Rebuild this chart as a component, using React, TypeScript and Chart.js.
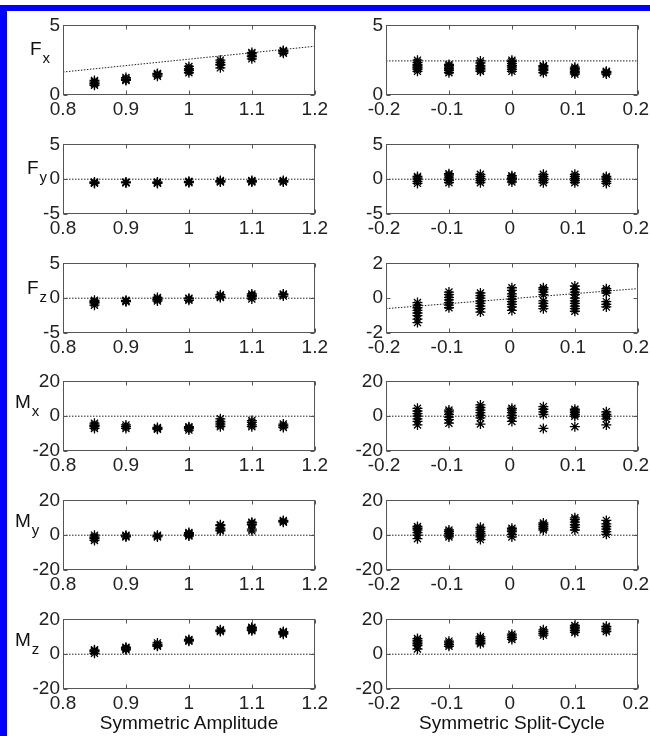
import React, { useEffect, useRef } from "react";
import { Chart, registerables } from "chart.js";
Chart.register(...registerables);

// ---------- data ----------
const ampX = [0.85, 0.9, 0.95, 1.0, 1.05, 1.1, 1.15];
const splitX = [-0.15, -0.1, -0.05, 0, 0.05, 0.1, 0.15];
const ampTicks = [0.8, 0.9, 1, 1.1, 1.2];
const splitTicks = [-0.2, -0.1, 0, 0.1, 0.2];
const ampRange = [0.8, 1.2];
const splitRange = [-0.2, 0.2];

const fxTicks = [0, 5];
const fTicks = [-5, 0, 5];
const fzSplitTicks = [-2, 0, 2];
const mTicks = [-20, 0, 20];

// Symmetric Amplitude column (groups of repeated measurements at each ampX)
const ampFx = [[0.7, 0.85, 0.95, 1.05, 0.8], [1.05, 1.15, 1.25, 1.1], [1.35, 1.45, 1.55, 1.5], [1.6, 1.75, 1.9, 2.05, 1.8], [1.95, 2.15, 2.35, 2.5, 2.2], [2.6, 2.8, 2.95, 3.05, 2.75], [3.0, 3.1, 3.2, 3.15]];
const ampFy = [[-0.6, -0.4, -0.5], [-0.5, -0.4, -0.5], [-0.6, -0.5, -0.4], [-0.5, -0.3, -0.4], [-0.4, -0.2, -0.3], [-0.4, -0.2, -0.3], [-0.3, -0.2, -0.4]];
const ampFz = [[-1.0, -0.7, -0.5, -0.3, -0.6], [-0.5, -0.3, -0.4], [-0.4, -0.1, -0.2, 0.1], [-0.3, -0.1, 0.0], [0.1, 0.3, 0.5, 0.2], [-0.1, 0.2, 0.4, 0.6, 0.3], [0.3, 0.5, 0.6]];
const ampMx = [[-7, -6, -5, -4, -5.5], [-7, -6, -5], [-7.5, -7, -6.5], [-8, -7, -6, -6.5], [-6, -4, -3, -1.5, -5], [-6, -5, -3.5, -2.5], [-6.5, -5.5, -4.5]];
const ampMy = [[-3, -2, -1, 0, -1.5], [-1, 0, -0.5], [-1, -0.5, 0], [-0.5, 0.5, 1, 1.5, 0], [2.5, 4, 5.5, 6, 3], [2.5, 3.5, 6, 7, 7.5], [7.5, 8, 8.5]];
const ampMz = [[0.5, 1.5, 2.5, 2], [2.5, 3.5, 4, 3], [4.5, 5.5, 6.5, 5], [7.5, 8, 8.5], [13, 13.5, 14], [13.5, 14.5, 15.5, 15, 14], [11.5, 12.5, 13, 12]];

// Symmetric Split-Cycle column
const splitFx = [[1.7, 1.85, 2.0, 2.1, 2.2, 2.35, 2.5, 1.95], [1.6, 1.75, 1.9, 2.0, 2.1, 2.2, 1.8], [1.7, 1.8, 1.9, 2.0, 2.1, 2.45, 2.3], [1.7, 1.85, 2.0, 2.1, 2.25, 2.4, 2.5], [1.6, 1.75, 1.85, 1.95, 2.05, 2.1], [1.5, 1.6, 1.7, 1.8, 1.9, 2.0], [1.5, 1.6, 1.65, 1.7]];
const splitFy = [[-0.6, -0.3, 0, 0.2, 0.4], [-0.5, -0.2, 0, 0.3, 0.6, 0.8], [-0.5, -0.2, 0.1, 0.4, 0.7], [-0.4, -0.1, 0.1, 0.3, 0.5], [-0.5, -0.2, 0.1, 0.4, 0.7], [-0.5, -0.2, 0.1, 0.4, 0.7], [-0.6, -0.3, 0, 0.2, 0.4]];
const splitFz = [[-1.4, -1.2, -1.0, -0.85, -0.7, -0.55, -0.4, -0.25], [-0.55, -0.4, -0.25, -0.1, 0.05, 0.2, 0.35], [-0.8, -0.6, -0.45, -0.3, -0.15, 0, 0.15, 0.3], [-0.7, -0.5, -0.35, -0.2, -0.05, 0.1, 0.25, 0.45, 0.6], [-0.6, -0.45, -0.3, -0.15, 0.2, 0.35, 0.5, 0.6], [-0.75, -0.6, -0.45, -0.3, -0.15, 0, 0.2, 0.35, 0.5, 0.7], [-0.5, -0.35, -0.2, 0.3, 0.45, 0.55]];
const splitMx = [[-5, -3, -1.5, 0, 1.5, 3, 4.5], [-4, -2, -0.5, 1, 2.5, 3.5], [-4.5, -1, 0.5, 2, 3.5, 5, 6.5], [-3, -1, 0.5, 2, 3.5, 4.5], [-7, 1, 2.5, 4, 5.5], [-6, 0, 1, 2, 3, 4], [-5, -1.5, 0, 1, 2.5]];
const splitMy = [[-2, 0, 1.5, 3, 4, 5], [-1, 0, 1, 2, 3], [-2.5, -1, 0, 1, 2, 3.5, 4.5], [-1, 0.5, 2, 3, 4], [3, 4, 5, 6, 7], [3, 4.5, 6, 7.5, 9, 10], [0.5, 2, 3.5, 5, 6.5, 8.5]];
const splitMz = [[3, 5, 6, 7, 8, 9], [4.5, 5.5, 6.5, 7.5], [6, 7, 8, 9, 10], [8.5, 9.5, 10.5, 11.5], [11, 12, 13, 14], [12.5, 13.5, 14.5, 15.5, 16.5], [13, 14, 15, 16]];

// fitted (dotted) lines: y at left and right end of x range
const ampFxFit = [1.65, 3.5];
const splitFxFit = [2.45, 2.45];
const splitFzFit = [-0.6, 0.55];
const zeroFit = [0, 0];

const rowLabels = [["F", "x"], ["F", "y"], ["F", "z"], ["M", "x"], ["M", "y"], ["M", "z"]];
const xLabels = ["Symmetric Amplitude", "Symmetric Split-Cycle"];

// ---------- layout ----------
const FONT = '"Liberation Sans", Arial, Helvetica, sans-serif';
const FS = 19;
const PLOT_W = 252;
const PLOT_H = 72;
const COL_LEFT = [63, 386];
const COL_LABEL_OFFSET = [0, -2];
const ROW_TOP = [23, 142, 261, 379, 498, 617];
const YW = 56;
const PT = 12;
const PR = 16;
const XH = 28;
const LABEL_LEFT = [30, 27, 27, 15, 15, 15];
const LABEL_DY = [16, 16, 17, 13, 13, 13];

const boxPlugin = {
  id: "box",
  afterDraw(chart: any) {
    const { ctx, chartArea: a, scales } = chart;
    ctx.save();
    ctx.strokeStyle = "#555";
    ctx.lineWidth = 1;
    const L = Math.round(a.left) + 0.5, R = Math.round(a.right) - 0.5;
    const T = Math.round(a.top) + 0.5, B = Math.round(a.bottom) - 0.5;
    ctx.strokeRect(L, T, R - L, B - T);
    ctx.beginPath();
    scales.x.ticks.forEach((t: any) => {
      const px = Math.round(scales.x.getPixelForValue(t.value)) + 0.5;
      ctx.moveTo(px, T); ctx.lineTo(px, T + 4);
      ctx.moveTo(px, B); ctx.lineTo(px, B - 4);
    });
    scales.y.ticks.forEach((t: any) => {
      const py = Math.round(scales.y.getPixelForValue(t.value)) + 0.5;
      ctx.moveTo(L, py); ctx.lineTo(L + 4, py);
      ctx.moveTo(R, py); ctx.lineTo(R - 4, py);
    });
    ctx.stroke();
    ctx.restore();
  },
};

type PanelProps = {
  left: number; top: number; labelOffset: number;
  xs: number[]; groups: number[][]; fit: number[];
  xRange: number[]; xTicks: number[]; yTicks: number[];
};

function Panel(p: PanelProps) {
  const ref = useRef<HTMLCanvasElement>(null);
  const W = YW + PLOT_W + PR;
  const H = PT + PLOT_H + XH;
  useEffect(() => {
    const pts: { x: number; y: number }[] = [];
    p.groups.forEach((g, i) => g.forEach((y) => pts.push({ x: p.xs[i], y })));
    const chart = new Chart(ref.current as HTMLCanvasElement, {
      type: "scatter",
      data: {
        datasets: [
          {
            data: [{ x: p.xRange[0], y: p.fit[0] }, { x: p.xRange[1], y: p.fit[1] }],
            showLine: true,
            borderColor: "#222",
            borderWidth: 1,
            borderDash: [1.5, 1.5],
            pointRadius: 0,
            order: 2,
          },
          {
            data: pts,
            pointStyle: "star",
            pointRadius: 5,
            borderColor: "#000",
            backgroundColor: "#000",
            borderWidth: 1.3,
            order: 1,
          },
        ],
      },
      options: {
        responsive: false,
        animation: false,
        layout: { padding: { top: PT, right: PR, left: 0, bottom: 0 } },
        plugins: { legend: { display: false }, tooltip: { enabled: false } },
        scales: {
          x: {
            type: "linear",
            min: p.xRange[0],
            max: p.xRange[1],
            afterBuildTicks: (s: any) => { s.ticks = p.xTicks.map((v) => ({ value: v })); },
            afterFit: (s: any) => { s.height = XH; },
            grid: { display: false, drawTicks: false, tickLength: 0 },
            border: { display: false },
            ticks: { font: { family: FONT, size: FS }, color: "#222", padding: 3, labelOffset: p.labelOffset, maxRotation: 0, autoSkip: false, callback: (v: any) => String(v) },
          },
          y: {
            type: "linear",
            min: p.yTicks[0],
            max: p.yTicks[p.yTicks.length - 1],
            afterBuildTicks: (s: any) => { s.ticks = p.yTicks.map((v) => ({ value: v })); },
            afterFit: (s: any) => { s.width = YW; },
            grid: { display: false, drawTicks: false, tickLength: 0 },
            border: { display: false },
            ticks: { font: { family: FONT, size: FS }, color: "#222", padding: 3, autoSkip: false, callback: (v: any) => String(v) },
          },
        },
      },
      plugins: [boxPlugin],
    } as any);
    return () => chart.destroy();
  }, []);
  return (
    <canvas
      ref={ref}
      width={W}
      height={H}
      style={{ position: "absolute", left: p.left - YW, top: p.top - PT, width: W, height: H }}
    />
  );
}

const ampGroups = [ampFx, ampFy, ampFz, ampMx, ampMy, ampMz];
const splitGroups = [splitFx, splitFy, splitFz, splitMx, splitMy, splitMz];
const ampFits = [ampFxFit, zeroFit, zeroFit, zeroFit, zeroFit, zeroFit];
const splitFits = [splitFxFit, zeroFit, splitFzFit, zeroFit, zeroFit, zeroFit];
const ampYTicks = [fxTicks, fTicks, fTicks, mTicks, mTicks, mTicks];
const splitYTicks = [fxTicks, fTicks, fzSplitTicks, mTicks, mTicks, mTicks];

export default function App() {
  return (
    <div style={{ position: "absolute", left: 0, top: 0, width: 650, height: 736, overflow: "hidden", background: "#fff", fontFamily: FONT }}>
      <div style={{ position: "absolute", left: 0, top: 5, width: 650, height: 6, background: "#0000ff" }} />
      <div style={{ position: "absolute", left: 0, top: 5, width: 7, height: 731, background: "#0000ff" }} />
      {ROW_TOP.map((top, r) => (
        <React.Fragment key={r}>
          <Panel left={COL_LEFT[0]} top={top} labelOffset={COL_LABEL_OFFSET[0]} xs={ampX} groups={ampGroups[r]} fit={ampFits[r]} xRange={ampRange} xTicks={ampTicks} yTicks={ampYTicks[r]} />
          <Panel left={COL_LEFT[1]} top={top} labelOffset={COL_LABEL_OFFSET[1]} xs={splitX} groups={splitGroups[r]} fit={splitFits[r]} xRange={splitRange} xTicks={splitTicks} yTicks={splitYTicks[r]} />
          <div style={{ position: "absolute", left: LABEL_LEFT[r], top: top + LABEL_DY[r], fontSize: FS, lineHeight: "19px", color: "#111", whiteSpace: "nowrap" }}>
            <span>{rowLabels[r][0]}</span>
            <span style={{ fontSize: 15, position: "relative", top: 8, marginLeft: 1 }}>{rowLabels[r][1]}</span>
          </div>
        </React.Fragment>
      ))}
      {xLabels.map((t, c) => (
        <div key={t} style={{ position: "absolute", left: COL_LEFT[c], top: 713, width: PLOT_W, textAlign: "center", fontSize: FS, lineHeight: "19px", color: "#111", whiteSpace: "nowrap" }}>
          {t}
        </div>
      ))}
    </div>
  );
}
